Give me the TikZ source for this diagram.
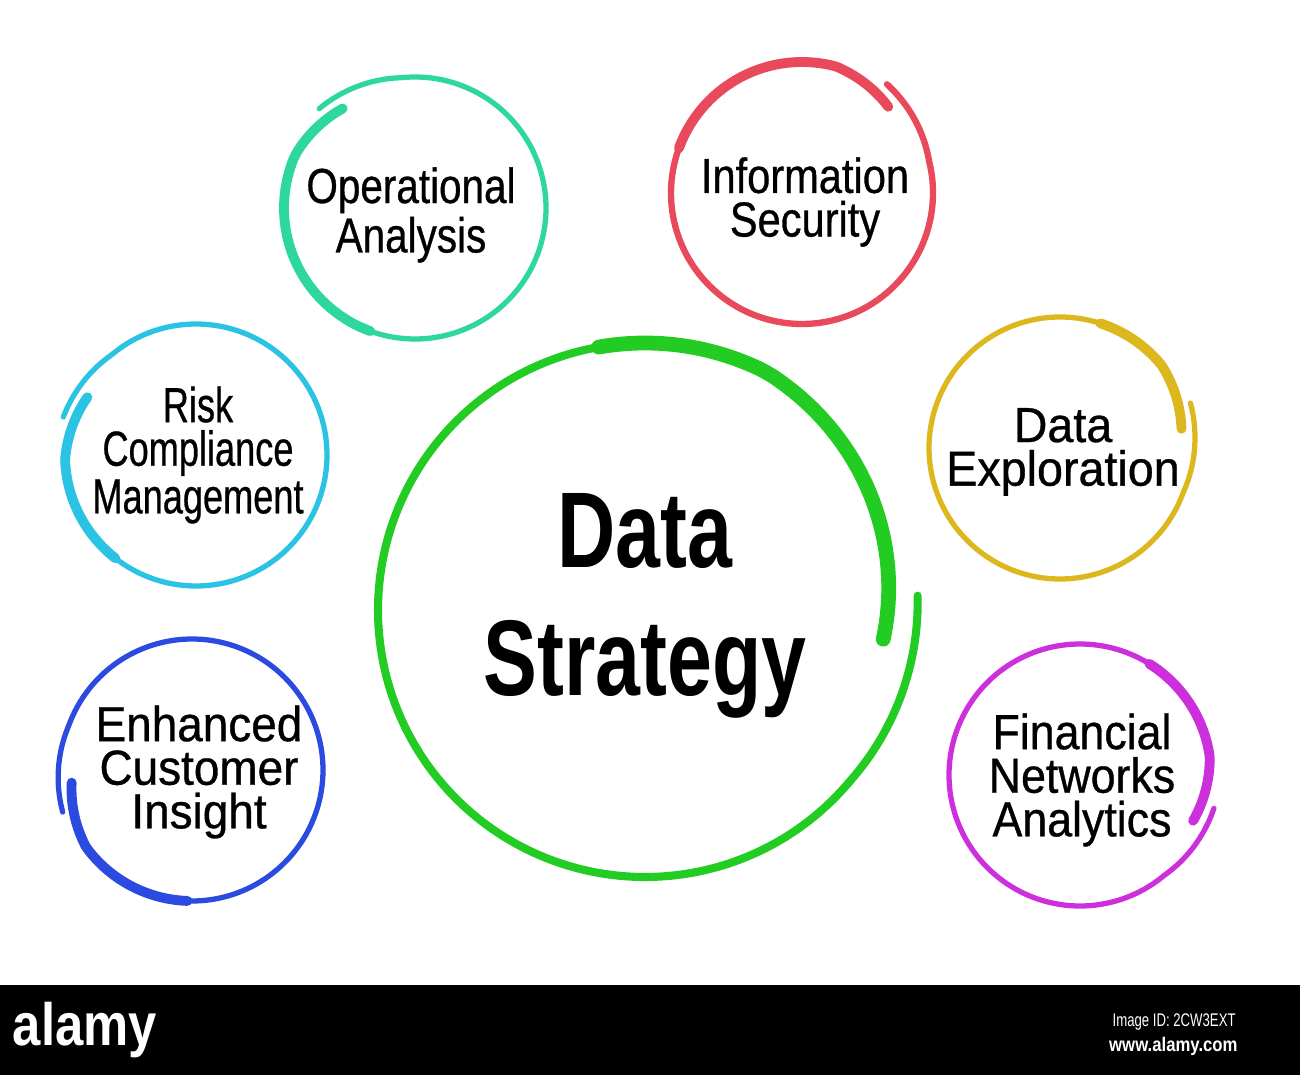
\documentclass[tikz,border=0pt]{standalone}
\usepackage{fontspec}
\setmainfont{Liberation Sans}
\newfontfamily\ringfont[FakeStretch=0.79, FakeBold=0.6]{Liberation Sans}
\newfontfamily\bigfont[FakeStretch=0.75]{Liberation Sans Bold}
\newfontfamily\barfont[FakeStretch=0.72]{Liberation Sans}
\newfontfamily\barboldfont[FakeStretch=0.85]{Liberation Sans Bold}
\definecolor{opteal}{HTML}{2ED6A0}
\definecolor{secred}{HTML}{E94A5B}
\definecolor{riskcyan}{HTML}{2BC3E4}
\definecolor{explgold}{HTML}{DDB71E}
\definecolor{custblue}{HTML}{2B4BE0}
\definecolor{finmagenta}{HTML}{CC30DD}
\definecolor{stratgreen}{HTML}{22CC22}
\tikzset{
  ring/.style={circle, minimum size=2.62cm, inner sep=0pt},
  bigring/.style={circle, minimum size=5.34cm, inner sep=0pt},
  ringtext/.style={align=center, inner sep=0pt, transform shape, font=\ringfont\fontsize{14pt}{12.4pt}\selectfont},
  bigtext/.style={align=center, inner sep=0pt, font=\bigfont\fontsize{30.6pt}{36.4pt}\selectfont},
  brush/.style={draw=#1, line width=2.8pt, line cap=round, smooth, samples=40},
  stroke/.style={draw=#1, line width=1.5pt, line cap=round, smooth, samples=120}
}
\begin{document}
\begin{tikzpicture}[x=0.01cm, y=0.01cm]
  \useasboundingbox (0,0) rectangle (1300,1075);
  % rings
  \node[bigring] (strat) at (645,465) {};
  \node[ring] (ops) at (415,867) {};
  \node[ring] (sec) at (802,882) {};
  \node[ring] (risk) at (196,620) {};
  \node[ring] (expl) at (1060,627) {};
  \node[ring] (cust) at (192,305) {};
  \node[ring] (fin) at (1080,300) {};
  % brush strokes: thin loop ending in an outer tail, thick part curling in at the gap
  \draw[stroke=stratgreen, line width=2.3pt, shift={(strat.center)}]
    plot[domain=100:363] (\x:{267+6*max(0,(\x-320)/43)});
  \draw[brush=stratgreen, line width=4.2pt, shift={(strat.center)}]
    plot[domain=-7:100] (\x:{267-27*max(0,1-(\x+7)/70)});
  \draw[stroke=opteal, shift={(ops.center)}]
    plot[domain=250:494] (\x:{131+7*max(0,(\x-456)/38)});
  \draw[brush=opteal, shift={(ops.center)}]
    plot[domain=126:250] (\x:{131-8*max(0,1-(\x-126)/30)});
  \draw[stroke=secred, line width=1.8pt, shift={(sec.center)}]
    plot[domain=160:412] (\x:{131+7*max(0,(\x-374)/38)});
  \draw[brush=secred, shift={(sec.center)}]
    plot[domain=45:160] (\x:{131-9*max(0,1-(\x-45)/30)});
  \draw[stroke=riskcyan, shift={(risk.center)}]
    plot[domain=232:524] (\x:{131+7*max(0,(\x-490)/34)});
  \draw[brush=riskcyan, shift={(risk.center)}]
    plot[domain=152:232] (\x:{131-8*max(0,1-(\x-152)/30)});
  \draw[stroke=explgold, shift={(expl.center)}]
    plot[domain=72:379] (\x:{131+7*max(0,(\x-340)/39)});
  \draw[brush=explgold, shift={(expl.center)}]
    plot[domain=9:72] (\x:{131-8*max(0,1-(\x-9)/30)});
  \draw[stroke=custblue, shift={(cust.center)}]
    plot[domain=268:558] (\x:{131+5*max(0,(\x-520)/38)});
  \draw[brush=custblue, shift={(cust.center)}]
    plot[domain=186:268] (\x:{131-10*max(0,1-(\x-186)/30)});
  \draw[stroke=finmagenta, shift={(fin.center)}]
    plot[domain=58:346] (\x:{131+7*max(0,(\x-310)/36)});
  \draw[brush=finmagenta, shift={(fin.center)}]
    plot[domain=-22:58] (\x:{131-9*max(0,1-(\x+22)/30)});
  % labels
  \node[bigtext] (strattext) at (645,469) {Data\\Strategy};
  \node[ringtext, xscale=1.04] (opstext) at (411,860) {Operational\\Analysis};
  \node[ringtext, xscale=1.07] (sectext) at (805,873) {Information\\Security};
  \node[ringtext, xscale=0.93] (risktext) at (198,620) {Risk\\Compliance\\Management};
  \node[ringtext, xscale=1.2] (expltext) at (1063,623) {Data\\Exploration};
  \node[ringtext, xscale=1.18] (custtext) at (199,303) {Enhanced\\Customer\\Insight};
  \node[ringtext, xscale=1.15] (fintext) at (1082,295) {Financial\\Networks\\Analytics};
  % bottom bar
  \fill[black] (0,0) rectangle (1300,90);
  \node[white, font=\barboldfont\fontsize{17pt}{17pt}\selectfont] (logo) at (85,45) {alamy};
  \node[white, anchor=east, font=\barfont\fontsize{5.2pt}{6pt}\selectfont] (imgid) at (1248,53) {Image ID: 2CW3EXT};
  \node[white, anchor=east, font=\barboldfont\fontsize{5.6pt}{6pt}\selectfont] (www) at (1250,29) {www.alamy.com};
\end{tikzpicture}
\end{document}
